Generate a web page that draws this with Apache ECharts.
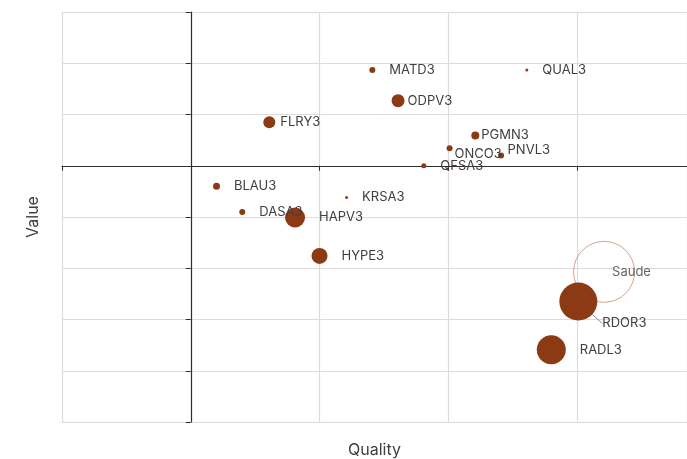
<!DOCTYPE html>
<html>
<head>
<meta charset="utf-8">
<script src="https://cdn.jsdelivr.net/npm/echarts@6/dist/echarts.min.js"></script>
<style>html,body{margin:0;padding:0;background:#fff}#c{width:687px;height:459px}</style>
</head>
<body>
<div id="c"></div>
<script>
// Data
const tickers = ['FLRY3','BLAU3','DASA3','HAPV3','KRSA3','MATD3','ODPV3','QUAL3','PGMN3','ONCO3','PNVL3','QFSA3','HYPE3','RDOR3','RADL3'];
const quality = [0.61, 0.20, 0.40, 0.81, 1.21, 1.41, 1.61, 2.61, 2.21, 2.01, 2.41, 1.81, 1.00, 3.01, 2.80];
const value   = [0.85, -0.40, -0.90, -1.01, -0.62, 1.87, 1.27, 1.87, 0.59, 0.34, 0.20, 0.00, -1.76, -2.65, -3.59];
const sizes   = [12, 7, 6, 20, 3, 6, 13, 3, 8, 6, 6, 5, 16, 38, 29];
const sectorName = ['Saude'];
const sectorQuality = [3.21];
const sectorValue = [-2.07];
const sectorSize = [61];

// Label styling (distance beyond symbol edge, vertical shift)
const labelStyle = {
  FLRY3:{d:5,dy:0}, ODPV3:{d:3,dy:0}, PGMN3:{d:2,dy:0},
  ONCO3:{d:2,dy:5.5}, PNVL3:{d:3.5,dy:-5}, RDOR3:{d:5,dy:22,line:true}
};

const font = 'Inter, "Noto Sans", sans-serif';
const txt = '#433d3d';
const pts = tickers.map((t,i)=>{
  const s = labelStyle[t] || {d:14,dy:0};
  return {
    name:t, value:[quality[i], value[i], sizes[i]],
    label:{distance:s.d},
    labelLine:{show:!!s.line}
  };
});

const chart = echarts.init(document.getElementById('c'));
chart.setOption({
  animation:false,
  grid:{left:62,right:0,top:12,bottom:37,containLabel:false,outerBoundsMode:'none'},
  xAxis:{
    type:'value', min:-1, max:3.854, interval:1,
    name:'Quality', nameLocation:'middle', nameGap:20,
    nameTextStyle:{fontFamily:font,fontSize:16,color:txt},
    axisLabel:{show:false},
    axisLine:{lineStyle:{color:'#332c2c',width:1.2}},
    axisTick:{show:true,length:5,lineStyle:{color:'#332c2c'}},
    splitLine:{lineStyle:{color:'#dcdcdc',width:1.2}}
  },
  yAxis:{
    type:'value', min:-5, max:3, interval:1,
    name:'Value', nameLocation:'middle', nameGap:21,
    nameTextStyle:{fontFamily:font,fontSize:16,color:txt},
    axisLabel:{show:false},
    axisLine:{lineStyle:{color:'#332c2c',width:1.2}},
    axisTick:{show:true,length:5,lineStyle:{color:'#332c2c'}},
    splitLine:{lineStyle:{color:'#dcdcdc',width:1.2}}
  },
  series:[
    {
      type:'scatter', z:1,
      data: sectorName.map((n,i)=>({name:n,value:[sectorQuality[i],sectorValue[i],sectorSize[i]]})),
      symbolSize:v=>v[2],
      itemStyle:{color:'rgba(255,255,255,0)',borderColor:'#c98a70',borderWidth:1},
      label:{show:true,position:'right',distance:-23,offset:[0,0],formatter:'{b}',
        fontFamily:font,fontSize:13,color:txt}
    },
    {
      type:'scatter', z:2,
      data: pts,
      symbolSize:v=>v[2],
      itemStyle:{color:'#8c3a14',opacity:1},
      label:{show:true,position:'right',formatter:'{b}',fontFamily:font,fontSize:13,color:txt},
      labelLine:{lineStyle:{color:'#8a8a8a',width:1}},
      labelLayout:function(p){
        const t = tickers[p.dataIndex];
        const s = labelStyle[t];
        return s ? {dy:s.dy} : {};
      }
    }
  ]
});
</script>
</body>
</html>
